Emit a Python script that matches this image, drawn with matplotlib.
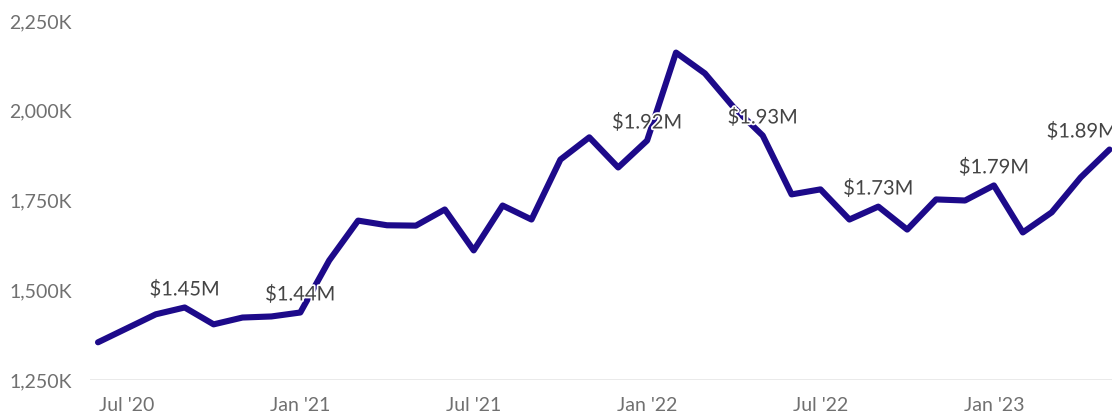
import matplotlib
matplotlib.use("Agg")
import matplotlib.pyplot as plt
import matplotlib.patheffects as pe

plt.rcParams['font.family'] = ['Lato', 'DejaVu Sans']

months = ["Jun '20", "Jul '20", "Aug '20", "Sep '20", "Oct '20", "Nov '20", "Dec '20",
          "Jan '21", "Feb '21", "Mar '21", "Apr '21", "May '21", "Jun '21", "Jul '21",
          "Aug '21", "Sep '21", "Oct '21", "Nov '21", "Dec '21", "Jan '22", "Feb '22",
          "Mar '22", "Apr '22", "May '22", "Jun '22", "Jul '22", "Aug '22", "Sep '22",
          "Oct '22", "Nov '22", "Dec '22", "Jan '23", "Feb '23", "Mar '23", "Apr '23",
          "May '23"]
values_k = [1355, 1394, 1433, 1452, 1405, 1424, 1427, 1438, 1583, 1694, 1681, 1680,
            1725, 1611, 1736, 1697, 1864, 1926, 1842, 1917, 2162, 2104, 2009, 1931,
            1767, 1781, 1697, 1733, 1669, 1753, 1750, 1792, 1661, 1717, 1814, 1892]
label_months = ["Sep '20", "Jan '21", "Jan '22", "May '22", "Sep '22", "Jan '23", "May '23"]
tick_months = ["Jul '20", "Jan '21", "Jul '21", "Jan '22", "Jul '22", "Jan '23"]
y_ticks = [1250, 1500, 1750, 2000, 2250]

fig = plt.figure(figsize=(11.12, 4.17), dpi=100)
ax = fig.add_axes([90/1112, 37/417, 1 - 90/1112, (380-21)/417])

x = list(range(len(months)))
ax.plot(x, values_k, color='#1d0a8a', lw=4.4, solid_joinstyle='round',
        solid_capstyle='round', clip_on=False, zorder=3)

for m in label_months:
    i = months.index(m)
    v = values_k[i]
    dx = -20 if i == len(months) - 1 else 0
    ax.annotate(f"${v/1000:.2f}M", (i, v), xytext=(dx, 13), textcoords='offset points',
                ha='center', va='center', fontsize=14.5, color='#444444',
                path_effects=[pe.withStroke(linewidth=2.5, foreground='white')],
                zorder=4, annotation_clip=False)

ax.set_xlim(-8/28.9, (1112-98)/28.9)
ax.set_ylim(1250, 2250)
ax.set_xticks([months.index(m) for m in tick_months])
ax.set_xticklabels(tick_months)
ax.set_yticks(y_ticks)
ax.set_yticklabels([f"{v:,}K" for v in y_ticks])
ax.tick_params(axis='both', length=0, labelsize=14, labelcolor='#707070')
ax.tick_params(axis='x', pad=12)
ax.tick_params(axis='y', pad=13)
for s in ax.spines.values():
    s.set_visible(False)
ax.axhline(1250, color='#e6e6e6', lw=1.2, zorder=1)

fig.savefig('out.png', dpi=100)
